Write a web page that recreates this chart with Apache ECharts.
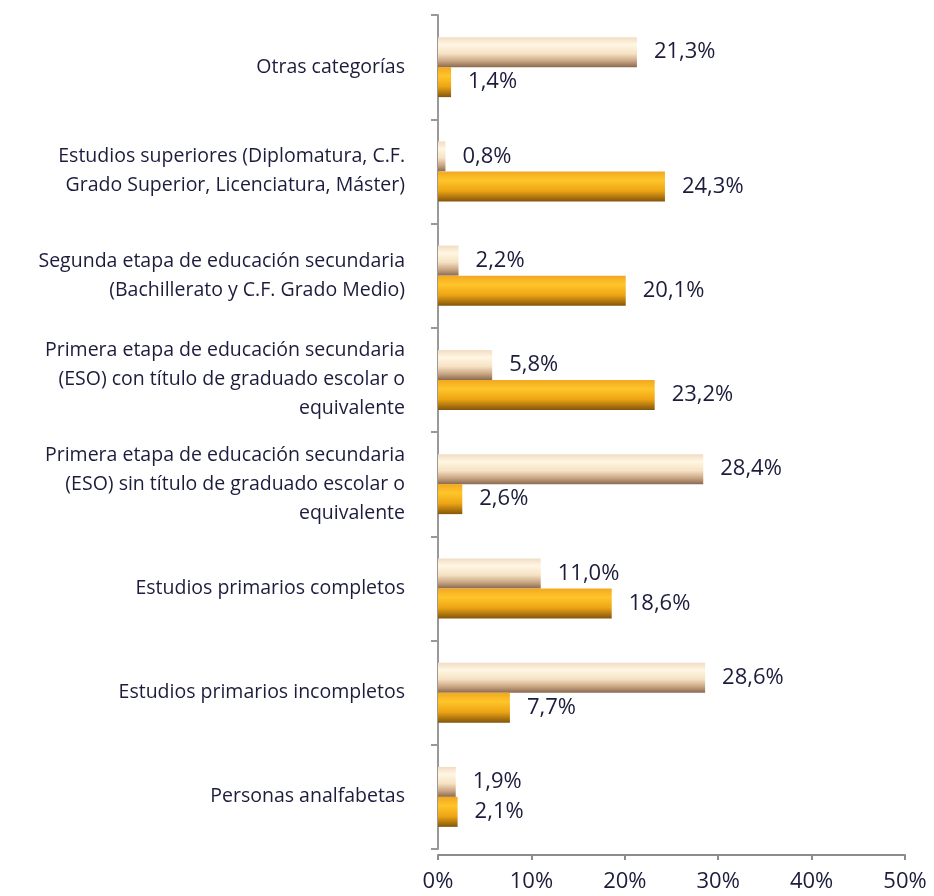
<!DOCTYPE html>
<html>
<head>
<meta charset="utf-8">
<script src="https://cdn.jsdelivr.net/npm/echarts@6/dist/echarts.min.js"></script>
<style>
  html, body { margin: 0; padding: 0; background: #fff; }
  #chart { width: 934px; height: 896px; }
</style>
</head>
<body>
<div id="chart"></div>
<script>
// categories, top to bottom
const categories = [
  "Otras categorías",
  "Estudios superiores (Diplomatura, C.F.\nGrado Superior, Licenciatura, Máster)",
  "Segunda etapa de educación secundaria\n(Bachillerato y C.F. Grado Medio)",
  "Primera etapa de educación secundaria\n(ESO) con título de graduado escolar o\nequivalente",
  "Primera etapa de educación secundaria\n(ESO) sin título de graduado escolar o\nequivalente",
  "Estudios primarios completos",
  "Estudios primarios incompletos",
  "Personas analfabetas"
];

// light (upper) bars and orange (lower) bars, in %
const seriesLight = [21.3, 0.8, 2.2, 5.8, 28.4, 11.0, 28.6, 1.9];
const seriesOrange = [1.4, 24.3, 20.1, 23.2, 2.6, 18.6, 7.7, 2.1];

const xTicks = [0, 10, 20, 30, 40, 50];

const textColor = "#1c1c3c";
const font = "'Open Sans', Lato, sans-serif";

const fmt = (v) => v.toFixed(1).replace(".", ",") + "%";

const lightFill = new echarts.graphic.LinearGradient(0, 0, 0, 1, [
  { offset: 0, color: "#f1dcc4" },
  { offset: 0.25, color: "#fff6e2" },
  { offset: 0.55, color: "#f6e2c4" },
  { offset: 0.8, color: "#c9a683" },
  { offset: 1, color: "#8a6a50" }
]);
const orangeFill = new echarts.graphic.LinearGradient(0, 0, 0, 1, [
  { offset: 0, color: "#f2a820" },
  { offset: 0.3, color: "#ffc52a" },
  { offset: 0.65, color: "#eda414" },
  { offset: 1, color: "#84560c" }
]);

const valueLabel = {
  show: true,
  position: "right",
  distance: 17,
  color: textColor,
  fontSize: 22,
  formatter: (p) => fmt(p.value)
};

const chart = echarts.init(document.getElementById("chart"));

chart.setOption({
  animation: false,
  textStyle: { fontFamily: font },
  grid: { left: 438, right: 29, top: 15, bottom: 47 },
  xAxis: {
    type: "value",
    min: xTicks[0],
    max: xTicks[xTicks.length - 1],
    interval: 10,
    offset: 6,
    splitLine: { show: false },
    axisLine: { show: true, lineStyle: { color: "#8c8c8c", width: 2 } },
    axisTick: { show: true, length: 5, lineStyle: { color: "#8c8c8c", width: 2 } },
    axisLabel: {
      color: textColor,
      fontSize: 22,
      margin: 16,
      formatter: (v) => v + "%"
    }
  },
  yAxis: {
    type: "category",
    inverse: true,
    data: categories,
    axisLine: { show: true, lineStyle: { color: "#999", width: 2 } },
    axisTick: { show: true, length: 7, lineStyle: { color: "#999", width: 2 } },
    axisLabel: {
      color: textColor,
      fontSize: 19.5,
      lineHeight: 29,
      margin: 33
    }
  },
  series: [
    {
      name: "light",
      type: "bar",
      data: seriesLight,
      barWidth: 30,
      barGap: "0%",
      itemStyle: { color: lightFill },
      label: valueLabel
    },
    {
      name: "orange",
      type: "bar",
      data: seriesOrange,
      barWidth: 30,
      barGap: "0%",
      itemStyle: { color: orangeFill },
      label: valueLabel
    }
  ]
});
</script>
</body>
</html>
